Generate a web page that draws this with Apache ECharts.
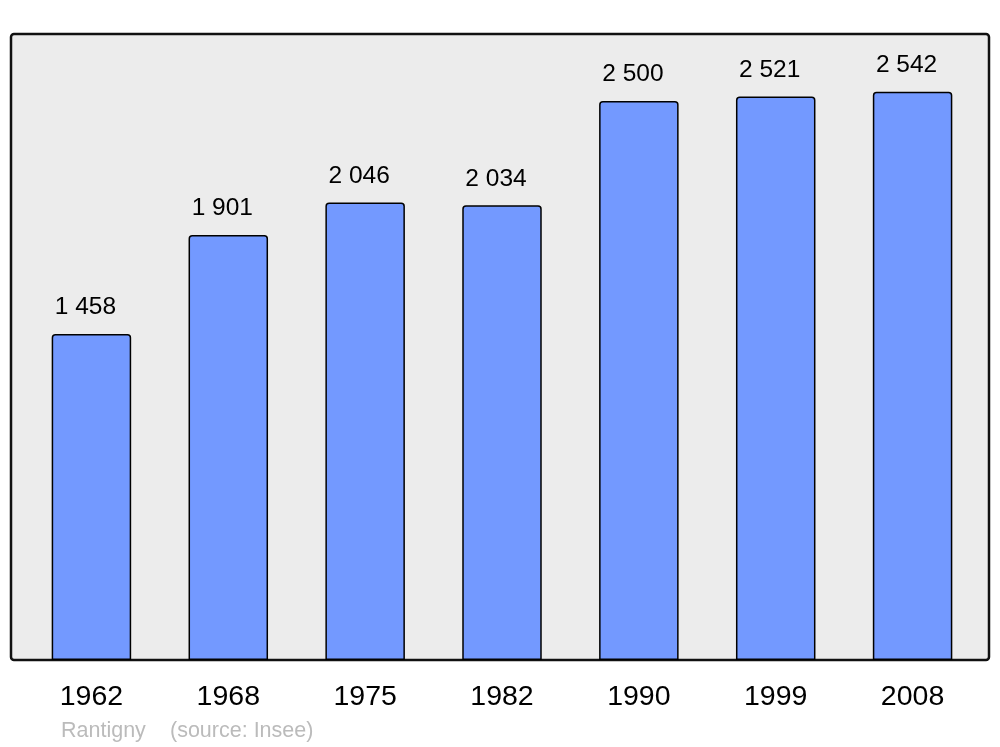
<!DOCTYPE html>
<html>
<head>
<meta charset="utf-8">
<script src="https://cdn.jsdelivr.net/npm/echarts@6/dist/echarts.min.js"></script>
<style>html,body{margin:0;padding:0;background:#fff;}#c{width:1000px;height:747px;}</style>
</head>
<body>
<div id="c"></div>
<script>
const years = ['1962', '1968', '1975', '1982', '1990', '1999', '2008'];
const population = [1458, 1901, 2046, 2034, 2500, 2521, 2542];
const town = 'Rantigny';
const source = '(source: Insee)';

const FF = 'Liberation Sans, Arial, sans-serif';
const fmt = v => String(v).replace(/\B(?=(\d{3})+(?!\d))/g, ' ');
const chart = echarts.init(document.getElementById('c'));
chart.setOption({
  animation: false,
  textStyle: { fontFamily: FF },
  grid: { left: 23, right: 19, top: 34, bottom: 87 },
  graphic: [
    { type: 'rect', z: -10, shape: { x: 11, y: 34, width: 978, height: 626, r: 3 },
      style: { fill: '#ececec', stroke: '#111', lineWidth: 2.5 } },
    { type: 'text', left: 61, top: 720, style: { text: town, fill: '#bbbbbb', fontSize: 21.5, fontFamily: FF } },
    { type: 'text', left: 170, top: 720, style: { text: source, fill: '#bbbbbb', fontSize: 21.5, fontFamily: FF } }
  ],
  xAxis: {
    type: 'category', data: years,
    axisLine: { show: false }, axisTick: { show: false },
    axisLabel: { fontSize: 28.5, color: '#000', margin: 23, fontFamily: FF }
  },
  yAxis: { type: 'value', min: 0, max: 2800, show: false, splitLine: { show: false } },
  series: [{
    type: 'bar', data: population, barWidth: 79.5,
    itemStyle: { color: '#7399ff', borderColor: '#000', borderWidth: 1.5, borderRadius: [3, 3, 0, 0] },
    label: { show: true, position: 'top', distance: 14, offset: [-6, 0], fontSize: 24.5, color: '#000',
      fontFamily: FF, formatter: p => fmt(p.value) }
  }]
});
</script>
</body>
</html>
